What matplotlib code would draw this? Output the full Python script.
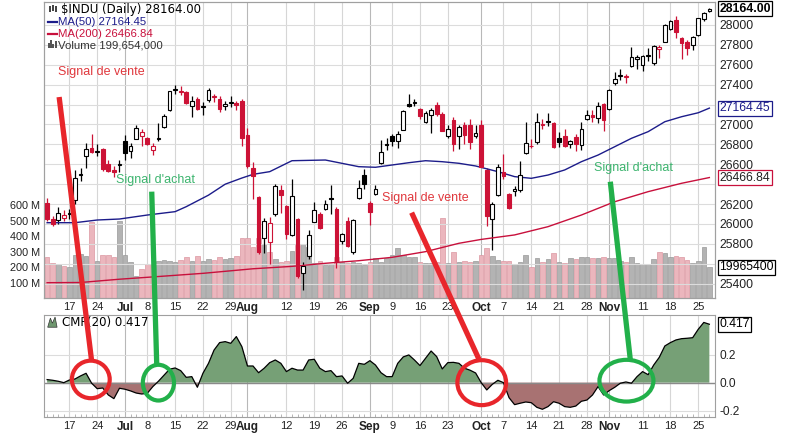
import matplotlib
matplotlib.use("Agg")
import matplotlib.pyplot as plt
import numpy as np
from matplotlib.patches import Rectangle, Ellipse, ConnectionPatch, Polygon

plt.rcParams['font.family'] = ['Liberation Sans', 'DejaVu Sans']

# $INDU daily, 11 Jun 2019 .. 27 Nov 2019 (one entry per trading day)
opens = [26210, 26050, 26045, 26060, 26100, 26240, 26495, 26680, 26760, 26725,
         26750, 26600, 26540, 26590, 26830, 26735, 26850, 26885, 26860, 26740,
         26850, 26970, 27150, 27350, 27330, 27330, 27190, 27260, 27180, 27250,
         27280, 27260, 27185, 27220, 27220, 27240, 26890, 26560, 26270, 25860,
         25820, 26100, 26345, 26180, 25890, 26050, 25505, 25680, 26025, 26100,
         26150, 26260, 26150, 25825, 26030, 25720, 26260, 26490, 26210, 26300,
         26610, 26800, 26880, 26830, 26945, 27210, 27220, 27160, 27030, 27100,
         27195, 27110, 26880, 27050, 26880, 26990, 26990, 26880, 26990, 26540,
         26050, 26290, 26520, 26300, 26330, 26345, 26710, 26780, 26820, 26990,
         27040, 27010, 26860, 26880, 26800, 26870, 26790, 27060, 27100, 27070,
         27210, 27160, 27420, 27490, 27480, 27590, 27660, 27600, 27690, 27620,
         27760, 27830, 27960, 28050, 27870, 27830, 27800, 27900, 28060, 28140]
highs = [26260, 26080, 26170, 26140, 26150, 26540, 26560, 26810, 26907, 26800,
         26760, 26640, 26580, 26640, 26895, 26810, 26990, 26955, 26870, 26810,
         27010, 27110, 27340, 27398, 27388, 27340, 27290, 27280, 27230, 27370,
         27310, 27290, 27240, 27290, 27240, 27260, 26960, 26620, 26280, 26060,
         26070, 26400, 26392, 26190, 26450, 26060, 25620, 25940, 26220, 26120,
         26240, 26390, 26170, 25910, 26070, 26050, 26440, 26550, 26230, 26390,
         26840, 26860, 26900, 26930, 27150, 27306, 27260, 27170, 27140, 27170,
         27230, 27130, 26990, 27080, 26990, 27030, 27060, 26990, 27050, 26560,
         26220, 26600, 26700, 26310, 26380, 26630, 27030, 26850, 27120, 27060,
         27120, 27030, 26920, 26950, 26840, 26900, 27030, 27150, 27150, 27230,
         27220, 27360, 27531, 27560, 27510, 27775, 27700, 27700, 27770, 27800,
         27800, 28010, 28050, 28090, 27880, 27850, 27890, 28070, 28130, 28175]
lows = [26030, 25980, 26000, 26030, 26050, 26200, 26430, 26560, 26715, 26680,
        26530, 26520, 26476, 26520, 26640, 26660, 26850, 26784, 26790, 26690,
        26830, 26960, 27140, 27310, 27300, 27210, 27080, 27150, 27100, 27230,
        27230, 27130, 27150, 27180, 27150, 26780, 26560, 26250, 25700, 25710,
        25600, 26080, 26107, 25850, 25880, 25460, 25339, 25650, 26020, 25950,
        26140, 26100, 25560, 25800, 25770, 25700, 26250, 26350, 25990, 26290,
        26600, 26740, 26780, 26760, 26940, 27180, 27190, 27060, 27010, 26915,
        27090, 26930, 26860, 26730, 26750, 26800, 26750, 26860, 26570, 25975,
        25743, 26280, 26450, 26150, 26280, 26320, 26700, 26760, 26800, 26950,
        26980, 26760, 26770, 26770, 26760, 26730, 26740, 27050, 27030, 27020,
        26930, 27150, 27400, 27450, 27420, 27580, 27560, 27540, 27640, 27600,
        27670, 27830, 27950, 27870, 27660, 27700, 27750, 27890, 28040, 28130]
closes = [26048, 26004, 26106, 26090, 26112, 26465, 26504, 26753, 26719, 26727,
          26548, 26536, 26526, 26600, 26717, 26787, 26966, 26922, 26806, 26783,
          26860, 27088, 27332, 27359, 27336, 27219, 27240, 27154, 27190, 27349,
          27290, 27160, 27210, 27230, 27198, 26864, 26583, 26485, 25718, 26030,
          26008, 26378, 26287, 25897, 26280, 25480, 25579, 25886, 26136, 25962,
          26202, 26252, 25629, 25899, 25778, 26036, 26362, 26403, 26118, 26356,
          26728, 26797, 26835, 26909, 27137, 27190, 27225, 27090, 27111, 27147,
          27110, 26935, 26950, 26808, 26970, 26891, 26820, 26917, 26573, 26079,
          26202, 26573, 26478, 26165, 26347, 26497, 26817, 26787, 27025, 27002,
          27026, 26770, 26828, 26788, 26834, 26806, 26959, 27091, 27071, 27186,
          27046, 27347, 27462, 27493, 27492, 27675, 27681, 27691, 27691, 27784,
          27782, 28005, 28036, 27934, 27821, 27766, 27876, 28066, 28121, 28164]
volume_m = [265, 228, 218, 206, 198, 277, 284, 270, 488, 240,
            280, 275, 262, 497, 280, 230, 145, 185, 218, 222,
            240, 245, 240, 235, 248, 262, 240, 270, 240, 250,
            245, 262, 250, 255, 270, 390, 390, 330, 385, 348,
            300, 250, 230, 240, 303, 340, 350, 330, 225, 238,
            215, 218, 265, 230, 225, 230, 225, 215, 230, 260,
            235, 260, 280, 320, 275, 265, 265, 230, 225, 228,
            230, 518, 228, 300, 230, 240, 230, 240, 275, 320,
            270, 245, 240, 240, 220, 235, 275, 200, 255, 232,
            250, 290, 235, 225, 255, 250, 265, 265, 255, 260,
            262, 260, 260, 240, 235, 265, 225, 218, 220, 250,
            300, 290, 265, 270, 265, 245, 225, 240, 330, 199.654]
cmf = [0.022, 0.017, 0.010, 0.000, 0.019, 0.026, 0.048, 0.067, -0.004, -0.043,
       -0.038, -0.088, -0.114, -0.040, -0.047, -0.059, -0.074, -0.081, -0.076, -0.028,
       0.010, 0.053, 0.096, 0.105, 0.086, 0.038, 0.043, -0.033, 0.067, 0.138,
       0.233, 0.286, 0.293, 0.281, 0.329, 0.257, 0.119, 0.119, 0.071, 0.103,
       0.143, 0.162, 0.138, 0.079, 0.103, 0.090, 0.090, 0.162, 0.167, 0.103,
       0.079, 0.086, 0.043, 0.048, -0.004, 0.031, 0.138, 0.131, 0.157, 0.126,
       0.071, 0.043, 0.043, 0.138, 0.184, 0.198, 0.162, 0.122, 0.174, 0.226,
       0.186, 0.098, 0.143, 0.145, 0.138, 0.103, 0.089, 0.069, 0.000, -0.052,
       -0.012, 0.017, 0.000, -0.107, -0.157, -0.147, -0.138, -0.143, -0.176, -0.190,
       -0.171, -0.136, -0.147, -0.171, -0.176, -0.167, -0.133, -0.124, -0.088, -0.028,
       -0.088, -0.057, -0.033, -0.004, 0.005, -0.004, 0.043, 0.079, 0.057, 0.126,
       0.181, 0.262, 0.286, 0.305, 0.314, 0.317, 0.321, 0.381, 0.430, 0.417]

ma50_idx = [0, 5, 9, 13, 18, 23, 25, 29, 32, 35, 37, 40, 44, 50, 56, 59, 62, 65,
            68, 71, 74, 77, 81, 84, 87, 90, 93, 96, 99, 102, 105, 108, 111, 114, 117, 119]
ma50 = [26013, 26013, 26040, 26050, 26090, 26124, 26174, 26290, 26400, 26462, 26499,
        26526, 26636, 26643, 26576, 26570, 26593, 26616, 26636, 26626, 26610, 26583,
        26526, 26476, 26459, 26492, 26543, 26626, 26693, 26777, 26861, 26928, 27028,
        27078, 27118, 27164.45]
ma200_idx = [0, 6, 13, 19, 28, 37, 44, 50, 56, 62, 68, 74, 78, 84, 90, 96, 102, 108, 114, 119]
ma200 = [25410, 25412, 25445, 25468, 25504, 25550, 25574, 25605, 25631, 25665, 25722,
         25806, 25845, 25890, 25973, 26090, 26224, 26325, 26409, 26466.84]

tick_pos = [4, 9, 14, 18, 23, 28, 33, 36, 43, 48, 53, 58, 62, 67, 72, 78, 82, 87,
            92, 97, 101, 107, 112, 117]
tick_lab = ['17', '24', 'Jul', '8', '15', '22', '29', 'Aug', '12', '19', '26', 'Sep',
            '9', '16', '23', 'Oct', '7', '14', '21', '28', 'Nov', '11', '18', '25']
months = ['Jul', 'Aug', 'Sep', 'Oct', 'Nov']
price_ticks = list(range(25400, 28001, 200))
hidden_price_labels = [25600, 26400, 27200]   # covered by the value tags

RED = '#cc1236'
NAVY = '#1c1c8a'
CRIMSON = '#c8103c'
SIG_RED = '#e8262b'
SIG_GREEN = '#22b04a'
TXT_RED = '#e0383d'
TXT_GREEN = '#3cb46e'

o = np.array(opens, float)
h = np.array(highs, float)
l = np.array(lows, float)
c = np.array(closes, float)
x = np.arange(len(c))
prev = np.r_[o[0], c[:-1]]
down = c < prev
col = np.where(down, RED, 'black')

fig = plt.figure(figsize=(8.06, 4.38), dpi=100)
L, W = 0.055, 0.8327
ax_v = fig.add_axes([L, 0.3196, W, 0.6758])
ax_p = ax_v.twinx()
ax_c = fig.add_axes([L, 0.048, W, 0.2328])

xlim = (-0.5, 120.1)

# volume (left scale)
ax_v.bar(x, volume_m, width=0.82,
         color=np.where(down, '#ebb6bd', '#b3b3b3'),
         edgecolor=np.where(down, '#dc97a2', '#999999'), lw=0.5, zorder=2)
ax_v.set_ylim(0, 1910)
ax_v.set_yticks([100, 200, 300, 400, 500, 600])
ax_v.set_yticklabels([f'{v} M' for v in [100, 200, 300, 400, 500, 600]])
ax_v.tick_params(axis='y', length=0, pad=3, labelsize=7.8, labelcolor='#222')

# price (right scale)
ax_p.vlines(x, l, h, colors=col, lw=0.9, zorder=3)
for i in x:
    lo, hi = min(o[i], c[i]), max(o[i], c[i])
    face = col[i] if c[i] < o[i] else 'white'
    ax_p.add_patch(Rectangle((i - 0.33, lo), 0.66, max(hi - lo, 6), fc=face,
                             ec=col[i], lw=0.8, zorder=4))
ax_p.plot(ma50_idx, ma50, color=NAVY, lw=1.0, zorder=3)
ax_p.plot(ma200_idx, ma200, color=CRIMSON, lw=1.0, zorder=3)
ax_p.set_ylim(25256, 28231)
ax_p.set_yticks(price_ticks)
ax_p.set_yticklabels(['' if v in hidden_price_labels else str(v) for v in price_ticks])
ax_p.tick_params(axis='y', length=0, pad=3, labelsize=8.7, labelcolor='#222')
ax_p.yaxis.grid(True, color='#dcdcdc', lw=0.8)
ax_p.set_axisbelow(True)

for ax in (ax_v, ax_c):
    ax.set_xlim(xlim)
    ax.set_xticks(tick_pos)
    ax.set_xticklabels(tick_lab)
    ax.set_xticks(x, minor=True)
    ax.tick_params(axis='x', which='major', length=0, pad=3, labelsize=8, labelcolor='#222')
    ax.tick_params(axis='x', which='minor', length=2, direction='in', color='#aaaaaa')
    for t in ax.get_xticklabels():
        if t.get_text() in months:
            t.set_fontweight('bold')
            t.set_fontsize(8.5)
    for p, lab in zip(tick_pos, tick_lab):
        ax.axvline(p, color='#b8b8b8' if lab in months else '#d6d6d6', lw=0.8, zorder=0)
ax_p.set_xlim(xlim)

for ax in (ax_v, ax_p, ax_c):
    for s in ax.spines.values():
        s.set_color('#a0a0a0')

# CMF panel
cm = np.array(cmf)
ax_c.fill_between(x, cm, 0, where=cm >= 0, interpolate=True, color='#76a076', lw=0, zorder=2)
ax_c.fill_between(x, cm, 0, where=cm <= 0, interpolate=True, color='#a87272', lw=0, zorder=2)
ax_c.plot(x, cm, color='black', lw=0.9, zorder=3)
ax_c.axhline(0, color='#8a8a8a', lw=1.0, zorder=2.5)
ax_c.set_ylim(-0.245, 0.483)
ax_c.yaxis.tick_right()
ax_c.set_yticks([-0.2, 0.0, 0.2])
ax_c.set_yticklabels(['-0.2', '0.0', '0.2'])
ax_c.tick_params(axis='y', length=0, pad=3, labelsize=8.6, labelcolor='#222')
ax_c.yaxis.grid(True, color='#dcdcdc', lw=0.8)
ax_c.set_axisbelow(True)

# legend block
ta = ax_p.transAxes
ax_p.text(0.0249, 0.976, '$INDU (Daily) 28164.00', transform=ta, fontsize=8.5,
          family='DejaVu Sans', va='center', color='black', zorder=6)
for k, dx in enumerate([0.0065, 0.0115, 0.0165]):
    ax_p.add_patch(Rectangle((dx, 0.966 + 0.004 * (k % 2)), 0.003, 0.02, transform=ta,
                             fc='#444', ec='none', zorder=6))
ax_p.plot([0.006, 0.019], [0.934, 0.934], transform=ta, color=NAVY, lw=1.6, zorder=6)
ax_p.text(0.0209, 0.934, 'MA(50) 27164.45', transform=ta, fontsize=8.2, va='center',
          color=NAVY, zorder=6)
ax_p.plot([0.006, 0.019], [0.892, 0.892], transform=ta, color=CRIMSON, lw=1.6, zorder=6)
ax_p.text(0.0209, 0.892, 'MA(200) 26466.84', transform=ta, fontsize=8.2, va='center',
          color=CRIMSON, zorder=6)
for k, hh in enumerate([0.02, 0.028, 0.016, 0.024]):
    ax_p.add_patch(Rectangle((0.005 + 0.0035 * k, 0.843), 0.0028, hh, transform=ta,
                             fc='#555', ec='none', zorder=6))
ax_p.text(0.0209, 0.854, 'Volume 199,654,000', transform=ta, fontsize=8.2, va='center',
          color='#333', zorder=6)

tc = ax_c.transAxes
ax_c.add_patch(Polygon([[0.005, 0.88], [0.009, 0.97], [0.012, 0.92], [0.016, 0.98],
                        [0.019, 0.88]], closed=True, transform=tc, fc='#6e966e',
                       ec='#333', lw=0.5, zorder=6))
ax_c.text(0.026, 0.931, 'CMF(20) 0.417', transform=tc, fontsize=8.5, family='DejaVu Sans',
          va='center', color='black', zorder=6)

# value tags on the right
def tag(ax, y, s, ec, tcol, bold=False):
    ax.text(1.006, y, s, transform=ax.get_yaxis_transform(), ha='left', va='center',
            fontsize=8.8, color=tcol, fontweight='bold' if bold else 'normal',
            bbox=dict(boxstyle='square,pad=0.12', fc='white', ec=ec, lw=0.9),
            clip_on=False, zorder=30)

tag(ax_p, 28164.00, '28164.00', 'black', 'black', bold=True)
tag(ax_p, 27164.45, '27164.45', NAVY, NAVY)
tag(ax_p, 26466.84, '26466.84', CRIMSON, '#222')
tag(ax_v, 199.654, '19965400', 'black', 'black')
tag(ax_c, 0.417, '0.417', 'black', 'black')

# annotations
ax_p.text(2.0, 27525, 'Signal de vente', color=TXT_RED, fontsize=9, va='center', zorder=8)
ax_p.text(12.4, 26442, "Signal d'achat", color=TXT_GREEN, fontsize=9, va='center', zorder=8)
ax_p.text(60.25, 26258, 'Signal de vente', color=TXT_RED, fontsize=9, va='center', zorder=8)
ax_p.text(98.2, 26560, "Signal d'achat", color=TXT_GREEN, fontsize=9, va='center', zorder=8)

links = [((2.16, 27276), (8.0, 0.155), SIG_RED),
         ((18.8, 26325), (19.7, 0.126), SIG_GREEN),
         ((65.5, 26114), (77.6, 0.167), SIG_RED),
         ((101.2, 26425), (104.8, 0.162), SIG_GREEN)]
for a, b, colr in links:
    con = ConnectionPatch(xyA=a, coordsA=ax_p.transData, xyB=b, coordsB=ax_c.transData,
                          color=colr, lw=3.8, capstyle='butt', zorder=20)
    fig.add_artist(con)

rings = [((7.85, 0.023), 6.8, 0.268, SIG_RED),
         ((20.0, 0.0), 5.6, 0.255, SIG_GREEN),
         ((78.1, 0.0), 8.75, 0.321, SIG_RED),
         ((104.1, 0.014), 9.7, 0.298, SIG_GREEN)]
for ctr, w, hgt, colr in rings:
    ax_c.add_patch(Ellipse(ctr, w, hgt, fill=False, ec=colr, lw=3.0, zorder=20,
                           clip_on=False))

fig.savefig('out.png', dpi=100, facecolor='white')
